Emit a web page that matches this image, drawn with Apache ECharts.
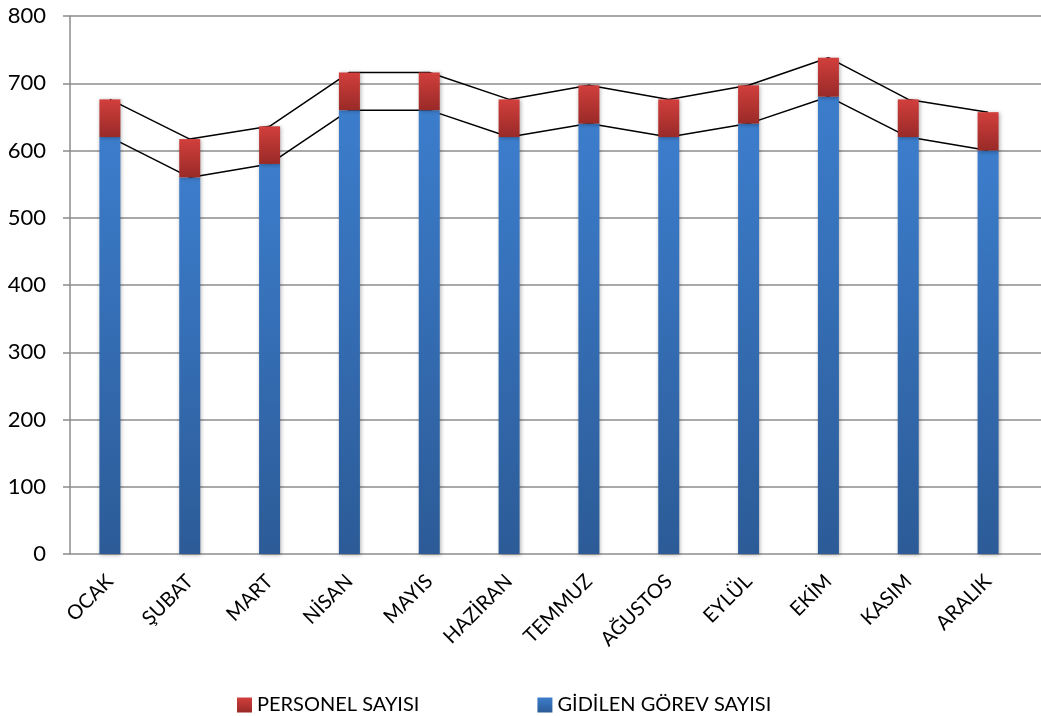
<!DOCTYPE html>
<html>
<head>
<meta charset="utf-8">
<script src="https://cdn.jsdelivr.net/npm/echarts@6/dist/echarts.min.js"></script>
<style>
  html, body { margin: 0; padding: 0; background: #fff; }
  #chart { width: 1041px; height: 716px; }
</style>
</head>
<body>
<div id="chart"></div>
<script>
var aylar = ['OCAK', 'ŞUBAT', 'MART', 'NİSAN', 'MAYIS', 'HAZİRAN', 'TEMMUZ', 'AĞUSTOS', 'EYLÜL', 'EKİM', 'KASIM', 'ARALIK'];
var gorev = [620, 560, 580, 660, 660, 620, 640, 620, 640, 680, 620, 600];
var personel = [56, 57, 56, 56, 56, 56, 57, 56, 57, 58, 56, 57];

// seri çizgileri için yığılmış toplamlar
var altCizgi = gorev.slice();
var ustCizgi = gorev.map(function (v, i) { return v + personel[i]; });

var chart = echarts.init(document.getElementById('chart'));

var mavi = new echarts.graphic.LinearGradient(0, 0, 0, 1, [
  { offset: 0, color: '#3c7dcc' },
  { offset: 1, color: '#2c5b97' }
]);
var kirmizi = new echarts.graphic.LinearGradient(0, 0, 0, 1, [
  { offset: 0, color: '#d13f3c' },
  { offset: 1, color: '#992a28' }
]);

var option = {
  animation: false,
  textStyle: { fontFamily: 'Lato', color: '#000' },
  grid: [
    { left: 70, right: 13, top: 16, bottom: 162 },
    { left: 70, right: 0, top: 16, bottom: 162 }
  ],
  legend: {
    data: ['PERSONEL SAYISI', 'GİDİLEN GÖREV SAYISI'],
    left: 232,
    top: 690,
    itemWidth: 15,
    itemHeight: 15,
    itemGap: 118,
    icon: 'rect',
    textStyle: { fontSize: 20, fontFamily: 'Lato', color: '#000' }
  },
  xAxis: [
    {
      type: 'category',
      data: aylar,
      gridIndex: 0,
      axisLine: { show: false },
      axisTick: { show: false },
      axisLabel: { rotate: 45, fontSize: 20, margin: 24, color: '#000', interval: 0 }
    },
    {
      type: 'category',
      data: aylar,
      gridIndex: 1,
      show: false
    }
  ],
  yAxis: [
    {
      type: 'value',
      gridIndex: 0,
      min: 0,
      max: 800,
      interval: 100,
      axisLine: { show: true, lineStyle: { color: '#8c8c8c', width: 1.5 } },
      axisTick: { show: true, length: 7, lineStyle: { color: '#8c8c8c', width: 1.5 } },
      axisLabel: { fontSize: 22, margin: 24, color: '#000' },
      splitLine: { show: false }
    },
    {
      type: 'value',
      gridIndex: 1,
      min: 0,
      max: 800,
      interval: 100,
      axisLine: { show: false },
      axisTick: { show: false },
      axisLabel: { show: false },
      splitLine: { show: true, lineStyle: { color: '#8c8c8c', width: 1.5 } },
      z: 0
    }
  ],
  series: [
    {
      name: 'alt',
      type: 'line',
      data: altCizgi,
      symbol: 'none',
      z: 1,
      lineStyle: { color: '#000', width: 1.5 }
    },
    {
      name: 'ust',
      type: 'line',
      data: ustCizgi,
      symbol: 'none',
      z: 1,
      lineStyle: { color: '#000', width: 1.5 }
    },
    {
      name: 'GİDİLEN GÖREV SAYISI',
      type: 'bar',
      stack: 'toplam',
      data: gorev,
      barWidth: 21,
      z: 3,
      itemStyle: {
        color: mavi,
        shadowBlur: 4,
        shadowColor: 'rgba(0,0,0,0.3)',
        shadowOffsetX: 1,
        shadowOffsetY: 1
      }
    },
    {
      name: 'PERSONEL SAYISI',
      type: 'bar',
      stack: 'toplam',
      data: personel,
      barWidth: 21,
      z: 3,
      itemStyle: {
        color: kirmizi,
        shadowBlur: 4,
        shadowColor: 'rgba(0,0,0,0.3)',
        shadowOffsetX: 1,
        shadowOffsetY: 1
      }
    }
  ]
};

chart.setOption(option);
</script>
</body>
</html>
